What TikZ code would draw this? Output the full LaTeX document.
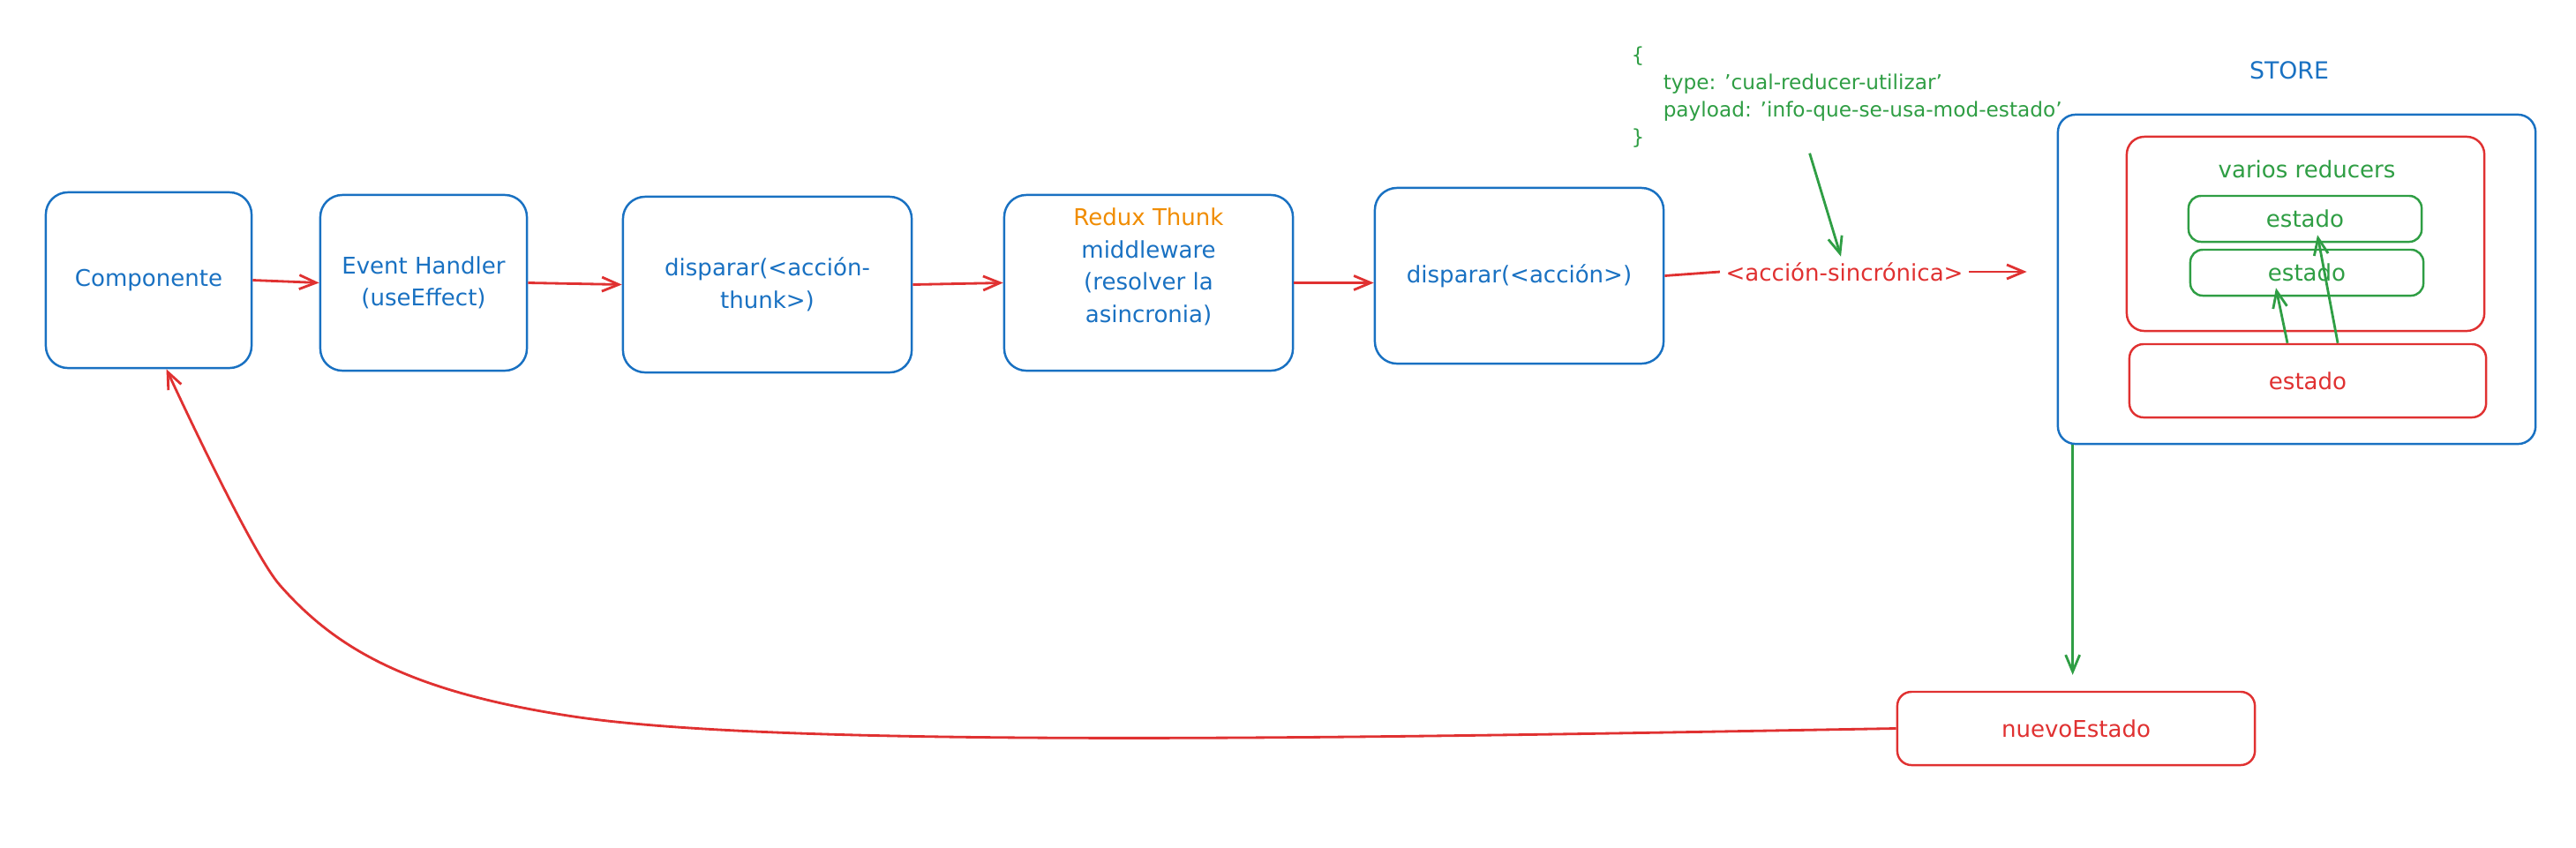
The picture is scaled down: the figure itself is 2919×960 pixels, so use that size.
\documentclass[tikz,border=0pt]{standalone}
\usepackage{fontspec}
\setmainfont{DejaVu Sans}
\usepackage{xcolor}
\usetikzlibrary{arrows.meta}
\definecolor{exblue}{HTML}{1971C2}
\definecolor{exred}{HTML}{E03131}
\definecolor{exgreen}{HTML}{2F9E44}
\definecolor{exorange}{HTML}{F08C00}

\begin{document}
\begin{tikzpicture}[x=0.01cm,y=-0.01cm,font=\fontsize{7.4}{10.4}\selectfont,
  box/.style={draw=#1,text=#1,line width=0.7pt,align=center,inner sep=0pt},
  bigbox/.style={box=exblue,rounded corners=2.5mm,minimum height=19.9mm},
  flow/.style={draw=exred,line width=0.8pt,-{Straight Barb[length=1.9mm,width=1.6mm]}},
  gflow/.style={flow,draw=exgreen}]
\path[use as bounding box,fill=white] (0,0) rectangle (2919,960);
\node[bigbox,minimum width=23.3mm] (comp) at (168.5,317.5) {Componente};
\node[bigbox,minimum width=23.4mm] (handler) at (480,320.5) {Event Handler\\(useEffect)};
\node[bigbox,minimum width=32.7mm] (thunk) at (869.5,322.5) {disparar(<acción-\\thunk>)};
\node[bigbox,minimum width=32.7mm,text depth=11.4pt] (redux) at (1301.5,320.5)
  {\textcolor{exorange}{Redux Thunk}\\middleware\\(resolver la\\asincronia)};
\node[bigbox,minimum width=32.7mm] (disp) at (1721.5,312.5) {disparar(<acción>)};
\node[text=exred,inner sep=0.6mm] (sync) at (2090,308) {<acción-sincrónica>};
\node[text=exgreen,align=left,anchor=north west,inner sep=0pt,
  font=\fontsize{6.6}{8.8}\selectfont] (json) at (1848,52)
  {\{\\\hspace*{3.6mm}type: 'cual-reducer-utilizar'\\\hspace*{3.6mm}payload: 'info-que-se-usa-mod-estado'\\\}};
\node[text=exblue,font=\fontsize{7.6}{9}\selectfont] (storelbl) at (2594,80) {STORE};
\node[box=exblue,rounded corners=2mm,minimum width=54.1mm,minimum height=37.3mm] (store) at (2602.5,316.5) {};
\node[box=exred,rounded corners=2mm,minimum width=40.5mm,minimum height=22mm] (reducers) at (2612.5,265) {};
\node[text=exgreen] (reducerslbl) at (2614,192) {varios reducers};
\node[box=exgreen,rounded corners=1.4mm,minimum width=26.4mm,minimum height=5.2mm] (est1) at (2612,248) {estado};
\node[box=exgreen,rounded corners=1.4mm,minimum width=26.4mm,minimum height=5.2mm] (est2) at (2614,309) {estado};
\node[box=exred,rounded corners=1.6mm,minimum width=40.4mm,minimum height=8.3mm] (estado) at (2615,431.5) {estado};
\node[box=exred,rounded corners=1.6mm,minimum width=40.5mm,minimum height=8.3mm] (nuevo) at (2352.5,825.5) {nuevoEstado};
\coordinate (storeout) at ([xshift=1.8mm]store.south west);
\draw[flow] (comp.east) -- (handler.west);
\draw[flow] (handler.east) -- (thunk.west);
\draw[flow] (thunk.east) -- (redux.west);
\draw[flow] (redux.east) -- (redux.east -| disp.west);
\draw[flow,-] (disp.east) -- (sync.west);
\draw[flow,shorten >=3.4mm] (sync.east) -- (sync.east -| store.west);
\draw[gflow] ([xshift=-4.2mm,yshift=-0.6mm]json.south) -- ([xshift=-0.4mm]sync.north);
\draw[gflow] ([xshift=-2.3mm]estado.north) -- ([xshift=-3.5mm,yshift=1mm]est2.south);
\draw[gflow] ([xshift=3.4mm]estado.north) -- ([xshift=1.4mm,yshift=0.9mm]est1.south);
\draw[gflow,shorten >=1.8mm] (storeout) -- (storeout |- nuevo.north);
\draw[flow] (nuevo.west) .. controls (1600,835) and (900,849.5) .. (650,812)
  .. controls (460,783.5) and (378.6,733) .. (317,663)
  .. controls (288,630) and (214,473) .. ([xshift=2mm]comp.south);
\end{tikzpicture}
\end{document}
